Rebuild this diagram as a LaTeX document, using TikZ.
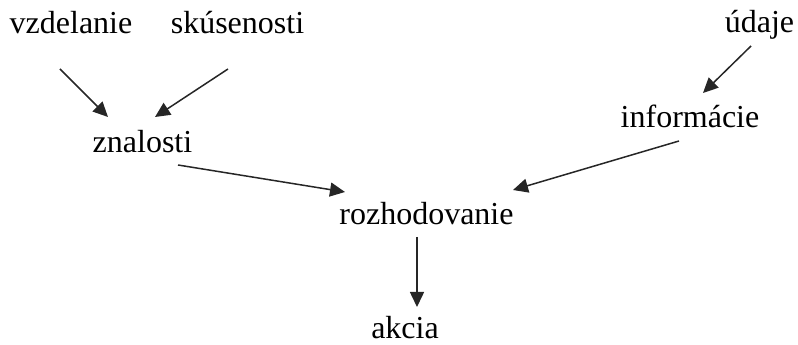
\documentclass[tikz,border=0pt]{standalone}
\usepackage{fontspec}
\setmainfont{Liberation Serif}
\usetikzlibrary{arrows.meta}
\begin{document}
\begin{tikzpicture}[x=1pt,y=1pt,
  lbl/.style={anchor=base,inner sep=0pt,font=\fontsize{32}{38}\selectfont},
  conn/.style={line width=1.5pt,draw=black!85,-{Triangle[length=15pt,width=14pt]}}]
\useasboundingbox (0,0) rectangle (798,345);
\node[lbl] (vz) at (71,311) {vzdelanie};
\node[lbl] (sk) at (237.5,311) {skúsenosti};
\node[lbl] (ud) at (759.5,312) {údaje};
\node[lbl] (zn) at (142.5,192) {znalosti};
\node[lbl] (inf) at (690,217) {informácie};
\node[lbl] (roz) at (426.5,120) {rozhodovanie};
\node[lbl] (ak) at (405,6) {akcia};
\draw[conn] ([shift={(-11,-35)}]vz.base) -- ([shift={(-34.5,36)}]zn.base);
\draw[conn] ([shift={(-9.5,-35)}]sk.base) -- ([shift={(12.5,36)}]zn.base);
\draw[conn] ([shift={(-8.5,-13)}]ud.base) -- ([shift={(13,35)}]inf.base);
\draw[conn] ([shift={(35.5,-12)}]zn.base) -- ([shift={(-81.5,33)}]roz.base);
\draw[conn] ([shift={(-11,-13)}]inf.base) -- ([shift={(86.5,35)}]roz.base);
\draw[conn] ([shift={(-9.5,-12)}]roz.base) -- ([shift={(12,32)}]ak.base);
\end{tikzpicture}
\end{document}
